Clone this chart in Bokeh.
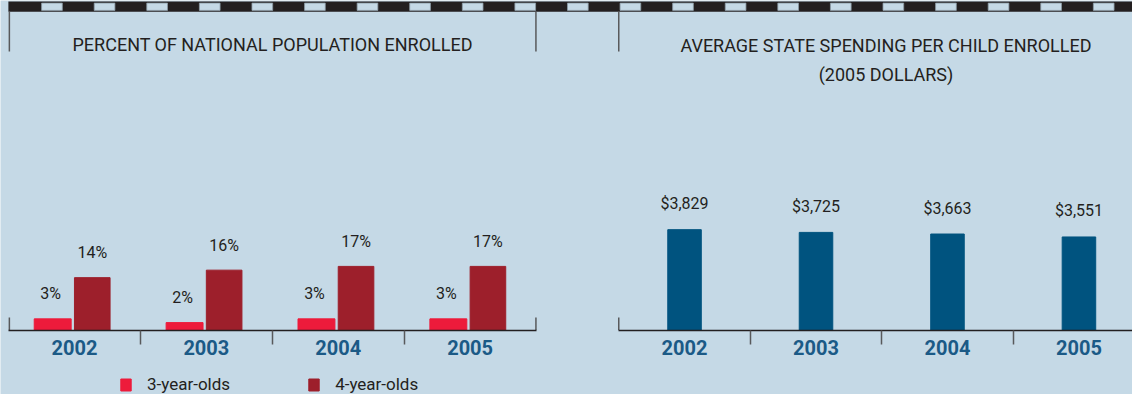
from bokeh.plotting import figure
from bokeh.models import Range1d, ColumnDataSource, LinearAxis, FixedTicker, Legend, LegendItem
from bokeh.transform import dodge
from bokeh.core.properties import value
from bokeh.embed import file_html
from bokeh.resources import INLINE

# ---------------- data ----------------
years = [2002, 2003, 2004, 2005]
enrolled_3yo = [3, 2, 3, 3]          # percent of national population
enrolled_4yo = [14, 16, 17, 17]      # percent of national population
spending = [3829, 3725, 3663, 3551]  # 2005 dollars per child
series_names = ["3-year-olds", "4-year-olds"]
title_left = "PERCENT OF NATIONAL POPULATION ENROLLED"
title_right = ["AVERAGE STATE SPENDING PER CHILD ENROLLED", "(2005 DOLLARS)"]

# ---------------- style ----------------
BG = "#c5d9e6"
DARK = "#231f20"
GREY = "#58595b"
RED3 = "#ed1b3b"
RED4 = "#9d1f2b"
BLUE = "#00537f"
YEARC = "#1b5a86"
FONT = "Roboto"

# design canvas (reference pixels) and actual figure size
RW, RH = 1148, 410
W, H = 1132, 394
SX, SY = W / RW, H / RH
BASE = 343            # baseline (reference px from top)
PCT_PX = 3.9          # reference px per percent
USD_PX = 0.0273       # reference px per dollar
GL = 133.75           # reference px per year, left chart
GR = 133.33           # reference px per year, right chart
XL0 = 75              # reference x of the first left group centre
XR0 = 693.7           # reference x of the first right group centre

p = figure(width=W, height=H,
           x_range=Range1d(years[0] - XL0 / GL, years[0] + (RW - XL0) / GL),
           y_range=Range1d(-(RH - BASE) / PCT_PX, BASE / PCT_PX),
           output_backend="svg", toolbar_location=None,
           x_axis_type=None, y_axis_type=None, min_border=0)
p.extra_x_ranges = {"xr": Range1d(years[0] - XR0 / GR, years[0] + (RW - XR0) / GR),
                    "px": Range1d(0, RW)}
p.extra_y_ranges = {"usd": Range1d(-(RH - BASE) / USD_PX, BASE / USD_PX),
                    "py": Range1d(RH, 0)}
p.background_fill_color = BG
p.border_fill_color = BG
p.outline_line_color = None

# ---------------- decoration (reference pixel coordinates) ----------------
p.quad(left=8, right=RW, top=1, bottom=11.7, x_range_name="px", y_range_name="py",
       fill_color=DARK, line_color=None)
band_x = [41.7 + 10.5 + 53.33 * k for k in range(21)]
p.rect(x=band_x, y=6.5, width=21, height=7.6, x_range_name="px", y_range_name="py",
       fill_color=BG, line_color="#8d9ca7", line_width=0.8)
p.segment(x0=[9, 543, 627, 9, 543, 627], x1=[9, 543, 627, 9, 543, 627],
          y0=[11.7, 11.7, 11.7, BASE, BASE, BASE], y1=[53, 53, 53, 330, 330, 330],
          x_range_name="px", y_range_name="py", line_color=GREY, line_width=1.5)
p.text(x=[276, 898, 898], y=[45.5, 46.7, 77], text=[title_left] + title_right,
       x_range_name="px", y_range_name="py",
       text_align="center", text_baseline="middle",
       text_font=value(FONT), text_font_size="18px", text_color=DARK)

# ---------------- axes ----------------
def year_axis(**kw):
    ax = LinearAxis(ticker=FixedTicker(ticks=years,
                                       minor_ticks=[y + 0.5 for y in years[:-1]]),
                    fixed_location=0, **kw)
    ax.axis_line_color = DARK
    ax.axis_line_width = 1.5
    ax.major_tick_line_color = None
    ax.major_tick_out = 0
    ax.major_tick_in = 0
    ax.minor_tick_line_color = GREY
    ax.minor_tick_line_width = 1.5
    ax.minor_tick_out = 14
    ax.minor_tick_in = 0
    ax.major_label_text_font = FONT
    ax.major_label_text_font_size = "20px"
    ax.major_label_text_font_style = "bold"
    ax.major_label_text_color = YEARC
    ax.major_label_standoff = -4
    p.add_layout(ax, "below")
    return ax

year_axis(bounds=(years[0] - 0.5, years[-1] + 0.5))
year_axis(x_range_name="xr", y_range_name="usd",
          bounds=(years[0] - 0.5, years[0] + (RW - XR0) / GR))

# ---------------- left chart ----------------
src_l = ColumnDataSource(dict(
    year=years, p3=enrolled_3yo, p4=enrolled_4yo,
    l3=[f"{v}%" for v in enrolled_3yo], l4=[f"{v}%" for v in enrolled_4yo]))
r3 = p.vbar(x=dodge("year", -0.165, range=p.x_range), top="p3", width=0.28,
            source=src_l, fill_color=RED3, line_color=RED3)
r4 = p.vbar(x=dodge("year", 0.135, range=p.x_range), top="p4", width=0.27,
            source=src_l, fill_color=RED4, line_color=RED4)
for col, lab, dx in (("p3", "l3", -0.18), ("p4", "l4", 0.135)):
    p.text(x=dodge("year", dx, range=p.x_range), y=col, text=lab, source=src_l,
           y_offset=-25, text_align="center", text_baseline="middle",
           text_font=value(FONT), text_font_size="16px", text_color=DARK)

legend = Legend(items=[LegendItem(label=series_names[0], renderers=[r3]),
                       LegendItem(label=series_names[1], renderers=[r4])],
                orientation="horizontal", location=(120.7 * SX, 0),
                glyph_width=13, glyph_height=15, label_standoff=15, spacing=77,
                padding=0, margin=0, label_height=15,
                background_fill_alpha=0, border_line_alpha=0,
                label_text_font=FONT, label_text_font_size="17px", label_text_color=DARK)
p.add_layout(legend, "center")

# ---------------- right chart ----------------
src_r = ColumnDataSource(dict(year=years, usd=spending,
                              lab=[f"${v:,}" for v in spending]))
p.vbar(x="year", top="usd", width=0.255, source=src_r,
       x_range_name="xr", y_range_name="usd", fill_color=BLUE, line_color=BLUE)
p.text(x="year", y="usd", text="lab", source=src_r, y_offset=-26,
       x_range_name="xr", y_range_name="usd",
       text_align="center", text_baseline="middle",
       text_font=value(FONT), text_font_size="16px", text_color=DARK)

open("out.html", "w").write(file_html(p, INLINE))
